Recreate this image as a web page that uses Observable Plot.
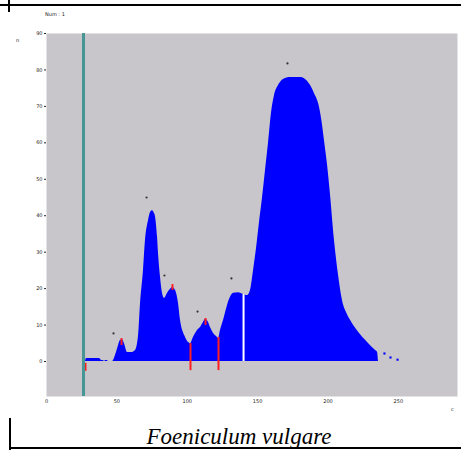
<!DOCTYPE html>
<html>
<head>
<meta charset="utf-8">
<script src="https://cdn.jsdelivr.net/npm/d3@7"></script>
<script src="https://cdn.jsdelivr.net/npm/@observablehq/plot@0.6"></script>
<style>
  html, body { margin: 0; padding: 0; background: #fff; }
  #wrap { position: relative; width: 461px; height: 450px; overflow: hidden; }
  #chart { position: absolute; left: 0; top: 0; }
  .tiny { position: absolute; font: 5px "DejaVu Sans", sans-serif; color: #222; }
  #caption { position: absolute; left: 0; width: 478px; top: 425px; text-align: center;
    font: italic 23px/23px "Liberation Serif", "DejaVu Serif", serif; color: #000; }
  .ln { position: absolute; background: #000; }
</style>
</head>
<body>
<div id="wrap">
  <div id="chart"></div>
  <div class="tiny" style="left:45px;top:11px;">Num : 1</div>
  <div class="tiny" style="left:16px;top:37px;">n</div>
  <div class="tiny" style="left:451px;top:406px;">c</div>
  <div id="caption">Foeniculum vulgare</div>
  <div class="ln" style="left:0;top:4px;width:461px;height:1.5px;"></div>
  <div class="ln" style="left:8px;top:0;width:1.5px;height:12px;"></div>
  <div class="ln" style="left:9px;top:447px;width:452px;height:2px;"></div>
  <div class="ln" style="left:9px;top:418px;width:2px;height:32px;"></div>
</div>
<script>
// Histogram (channel, count)
const channels = [27.7, 28.4, 37.7, 39.1, 40.5, 41.2, 41.9, 43.3, 44.0, 46.9, 47.6,
  49.7, 51.2, 52.6, 54.0, 55.4, 57.6, 61.1, 63.2, 65.4, 66.8, 68.9, 70.3, 72.5, 73.9,
  75.3, 76.7, 77.4, 78.9, 79.6, 81.0, 82.4, 83.8, 86.0, 88.1, 89.5, 91.7, 93.8, 95.2,
  98.8, 100.9, 102.3, 104.4, 107.3, 109.4, 111.5, 113.0, 115.1, 116.5, 118.7, 121.5,
  122.2, 123.6, 125.8, 128.6, 130.7, 132.9, 136.4, 140.0, 142.8, 144.9, 147.1, 149.2,
  151.3, 153.5, 155.6, 157.7, 159.9, 162.0, 164.8, 168.4, 173.4, 180.5, 184.0, 187.6,
  190.4, 193.3, 195.4, 197.5, 199.7, 201.8, 204.6, 207.5, 210.3, 213.2, 216.0, 221.7,
  228.1, 233.8, 235.2, 235.9];
const counts = [0, 0.8, 0.8, 0.3, 0.3, 0, 0.3, 0.3, 0, 0, 0.3,
  2.5, 4.4, 5.8, 6.0, 4.9, 2.5, 2.5, 3.0, 7.1, 15.9, 25.0, 33.2, 38.7, 40.9,
  41.4, 40.6, 39.8, 34.0, 29.6, 23.1, 18.7, 17.3, 18.7, 19.8, 20.3, 19.5, 15.9, 11.3,
  6.6, 5.2, 4.9, 6.6, 8.5, 9.3, 10.7, 11.5, 10.7, 9.3, 7.7, 6.6,
  6.3, 8.5, 11.3, 15.4, 17.6, 18.7, 18.9, 18.4, 18.1, 19.5, 25.0, 31.0,
  38.1, 45.0, 52.4, 59.8, 68.3, 73.0, 75.7, 77.4, 77.9, 77.9, 77.4, 75.7,
  73.5, 70.8, 66.7, 60.6, 53.8, 45.6, 33.2, 23.6, 16.7, 13.4, 11.3, 8.0,
  5.2, 3.0, 2.5, 0];

// isolated tail events
const tailChannels = [240.1, 244.4, 249.4];
const tailCounts = [2.2, 1.1, 0.5];

// red gate markers (channel, low, high)
const gateChannels = [27.7, 53.3, 89.5, 102.3, 113.0, 122.2];
const gateLow  = [-2.7, 4.4, 19.5, -2.5, 9.9, -2.5];
const gateHigh = [-0.5, 6.3, 21.1, 4.9, 11.8, 6.6];

// white divider
const dividerChannels = [140.0];
const dividerTops = [18.4];

// peak label dots
const peakChannels = [47.6, 71.1, 83.8, 107.3, 131.4, 171.2];
const peakCounts = [7.7, 45.0, 23.6, 13.7, 22.8, 81.8];

// teal reference line
const refChannels = [26.3];

const xTicks = [0, 50, 100, 150, 200, 250];
const yTicks = [0, 10, 20, 30, 40, 50, 60, 70, 80, 90];

const hist = channels.map((c, i) => ({c, v: counts[i]}));
const tail = tailChannels.map((c, i) => ({c, v: tailCounts[i]}));
const gates = gateChannels.map((c, i) => ({c, lo: gateLow[i], hi: gateHigh[i]}));
const dividers = dividerChannels.map((c, i) => ({c, hi: dividerTops[i]}));
const peaks = peakChannels.map((c, i) => ({c, v: peakCounts[i]}));

const chart = Plot.plot({
  width: 461,
  height: 415,
  marginLeft: 46,
  marginRight: 4,
  marginTop: 33,
  marginBottom: 19,
  style: {background: "transparent", fontFamily: "DejaVu Sans, sans-serif", fontSize: "5px", color: "#222"},
  x: {domain: [0, 292], ticks: xTicks, tickSize: 0, tickPadding: 3, label: null},
  y: {domain: [-9.6, 90], ticks: yTicks, tickSize: 2, tickPadding: 2, label: null},
  marks: [
    Plot.frame({fill: "#c8c6ca", stroke: null}),
    Plot.areaY(hist, {x: "c", y: "v", fill: "#0000ff", curve: "monotone-x"}),
    Plot.dot(tail, {x: "c", y: "v", symbol: "square", r: 1.2, fill: "#0000ff", stroke: null}),
    Plot.ruleX(dividers, {x: "c", y1: 0, y2: "hi", stroke: "#ffffff", strokeWidth: 2}),
    Plot.ruleX(gates, {x: "c", y1: "lo", y2: "hi", stroke: "#ff1e1e", strokeWidth: 2}),
    Plot.ruleX(refChannels, {stroke: "#469696", strokeWidth: 3}),
    Plot.dot(peaks, {x: "c", y: "v", r: 1.1, fill: "#333", stroke: null})
  ]
});
document.getElementById("chart").appendChild(chart);
</script>
</body>
</html>
